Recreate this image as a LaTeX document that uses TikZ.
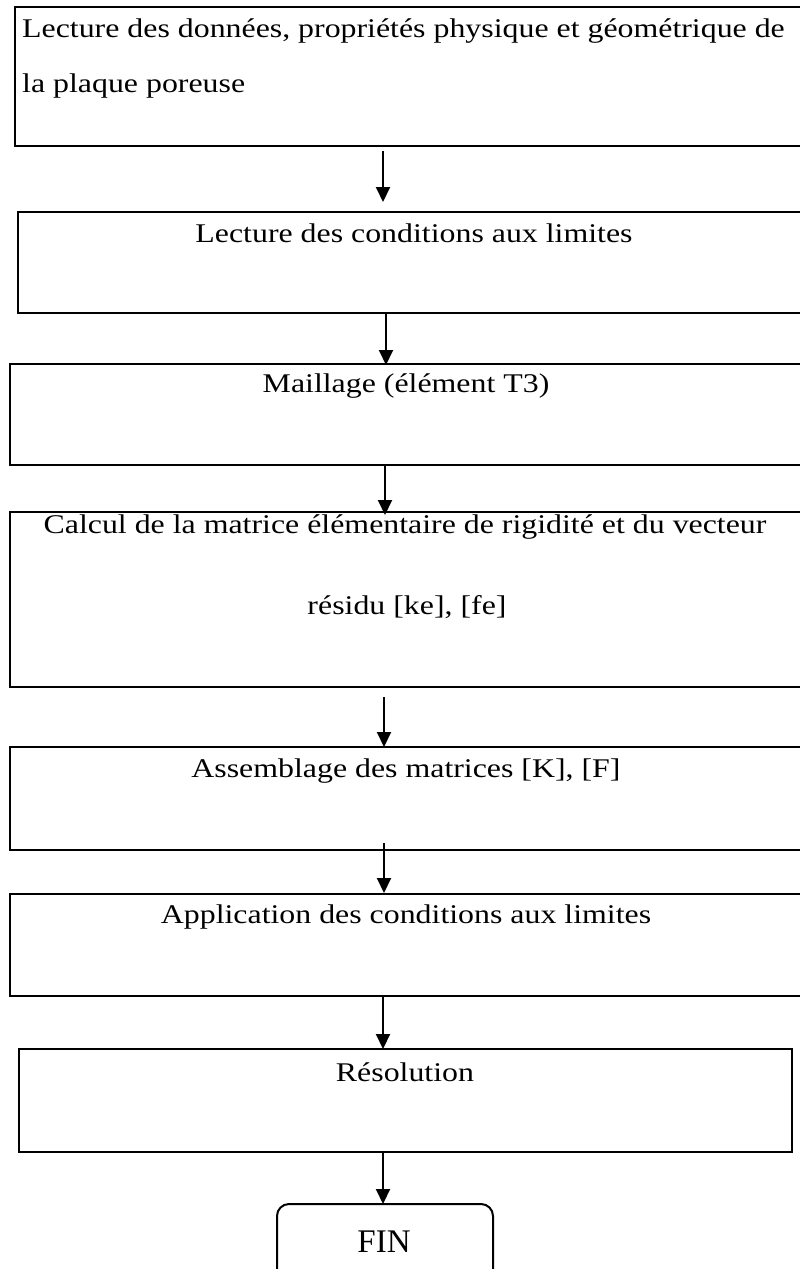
\documentclass[tikz,border=0pt]{standalone}
\usepackage{fontspec}
\setmainfont{Liberation Serif}[FakeStretch=1.18]
\newfontfamily\finfont{Liberation Serif}
\usetikzlibrary{arrows.meta}
\begin{document}
\begin{tikzpicture}[x=1pt,y=-1pt,
  stepbox/.style={draw,line width=2.8pt,rectangle,anchor=north west,inner sep=0pt,outer sep=0pt},
  finbox/.style={draw,line width=2pt,rectangle,rounded corners=12pt,anchor=north west,inner sep=0pt,outer sep=0pt},
  txt/.style={anchor=base,inner sep=0pt,font=\fontsize{27}{32}\selectfont},
  txtl/.style={anchor=base west,inner sep=0pt,font=\fontsize{27}{32}\selectfont},
  fintxt/.style={anchor=base,inner sep=0pt,font=\finfont\fontsize{33}{38}\selectfont},
  arr/.style={line width=2pt,-{Triangle[length=15pt,width=14pt]}}]
\useasboundingbox (0,0) rectangle (800,1269);
% boxes
\node[stepbox,minimum width=789pt,minimum height=139pt] (b1) at (15,7) {};
\node[stepbox,minimum width=786pt,minimum height=101pt] (b2) at (18,212) {};
\node[stepbox,minimum width=794pt,minimum height=101pt] (b3) at (10,364) {};
\node[stepbox,minimum width=794pt,minimum height=175pt] (b4) at (10,512) {};
\node[stepbox,minimum width=794pt,minimum height=103pt] (b5) at (10,747) {};
\node[stepbox,minimum width=794pt,minimum height=102pt] (b6) at (10,894) {};
\node[stepbox,minimum width=773pt,minimum height=103pt] (b7) at (19,1049) {};
\node[finbox,minimum width=216pt,minimum height=100pt] (fin) at (277,1204) {};
% texts
\node[txtl] (t1a) at (22,37) {Lecture des données, propriétés physique et géométrique de};
\node[txtl] (t1b) at (22,92) {la plaque poreuse};
\node[txt] (t2) at (414,242) {Lecture des conditions aux limites};
\node[txt] (t3) at (406,392) {Maillage (élément T3)};
\node[txt] (t4a) at (405,533) {Calcul de la matrice élémentaire de rigidité et du vecteur};
\node[txt] (t4b) at (407,614) {résidu [ke], [fe]};
\node[txt] (t5) at (406,777) {Assemblage des matrices [K], [F]};
\node[txt] (t6) at (406,923) {Application des conditions aux limites};
\node[txt] (t7) at (405,1081) {Résolution};
\node[fintxt] (t8) at (384,1252) {FIN};
% arrows
\draw[arr] ([xshift=368pt,yshift=-5pt]b1.south west) -- ([xshift=365pt,yshift=10pt]b2.north west);
\draw[arr] ([xshift=368pt]b2.south west) -- ([xshift=376pt,yshift=-1pt]b3.north west);
\draw[arr] ([xshift=375pt]b3.south west) -- ([xshift=375pt,yshift=-3pt]b4.north west);
\draw[arr] ([xshift=374pt,yshift=-10pt]b4.south west) -- ([xshift=374pt]b5.north west);
\draw[arr] ([xshift=374pt,yshift=7pt]b5.south west) -- ([xshift=374pt,yshift=1pt]b6.north west);
\draw[arr] ([xshift=373pt]b6.south west) -- ([xshift=364pt]b7.north west);
\draw[arr] ([xshift=364pt]b7.south west) -- ([xshift=106pt]fin.north west);
\end{tikzpicture}
\end{document}
